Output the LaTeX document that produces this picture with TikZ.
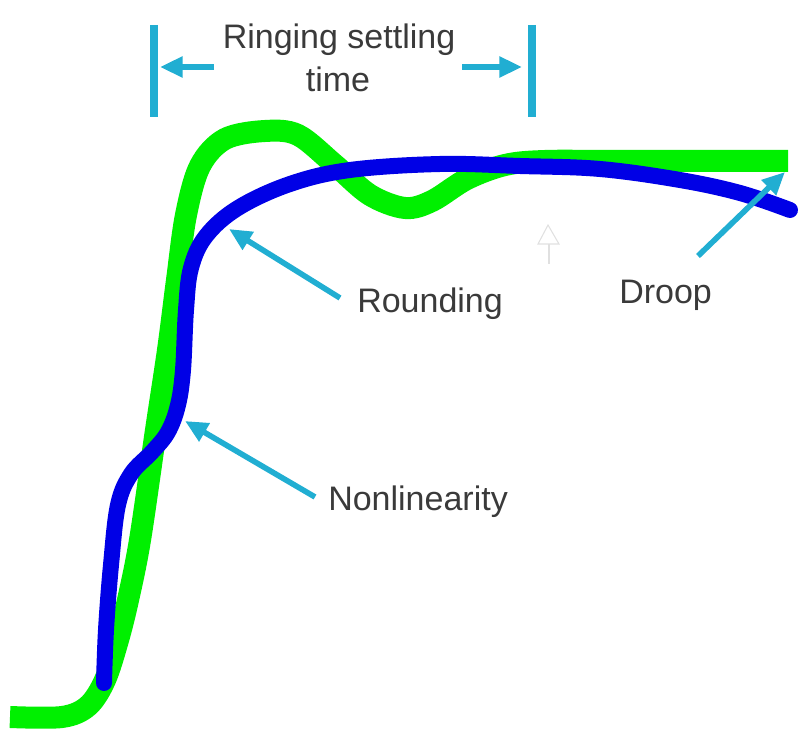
\documentclass[tikz,border=0pt]{standalone}
\usepackage{fontspec}
\setmainfont{Liberation Sans}
\usetikzlibrary{arrows.meta}
\definecolor{sigGreen}{RGB}{0,240,0}
\definecolor{sigBlue}{RGB}{0,0,230}
\definecolor{callout}{RGB}{33,174,210}
\definecolor{txt}{RGB}{58,58,58}
\begin{document}
\begin{tikzpicture}[x=0.75pt,y=-0.75pt,
  lbl/.style={inner sep=0pt,text=txt,font=\fontsize{25.5}{30}\selectfont},
  arr/.style={draw=callout,line width=4.2pt,-{Triangle[length=17pt,width=15pt]}},
  bar/.style={draw=callout,line width=6pt},
  greencurve/.style={draw=sigGreen,line width=16.5pt,line join=round},
  bluecurve/.style={draw=sigBlue,line width=12pt,line cap=round,line join=round},
  ghost/.style={draw=black!12,line width=0.8pt}]
\useasboundingbox (0,0) rectangle (800,737);
% green step response
\draw[greencurve] plot[smooth,tension=0.55] coordinates {(10,717) (62,717) (88,706) (105,680) (118,640) (128,600) (140,540) (156,430) (168,350) (177,280) (186,215) (200,166) (225,139) (265,131) (298,135) (335,165) (370,195) (405,208) (432,201) (467,179) (505,165) (545,161) (620,161) (788,161)};
% blue step response
\draw[bluecurve] plot[smooth,tension=0.6] coordinates {(104,683) (106,630) (111,565) (118,505) (131,474) (152,452) (168,432) (178,405) (183,370) (186,310) (191,268) (206,236) (238,208) (290,184) (350,170) (440,164) (520,166) (600,169) (680,180) (740,193) (790,210)};
% settling time markers
\coordinate (lb1) at (154,25); \coordinate (lb2) at (154,117);
\coordinate (rb1) at (532,25); \coordinate (rb2) at (532,117);
\draw[bar] (lb1) -- (lb2);
\draw[bar] (rb1) -- (rb2);
\node[lbl,anchor=base] (ring) at (339,49) {Ringing settling};
\node[lbl,anchor=base] (time) at (338,92) {time};
\coordinate (la0) at (214,67); \coordinate (la1) at (160,67);
\coordinate (ra0) at (462,67); \coordinate (ra1) at (522,67);
\draw[arr] (la0) -- (la1);
\draw[arr] (ra0) -- (ra1);
% labels
\node[lbl,anchor=base west] (round) at (357,313) {Rounding};
\node[lbl,anchor=base west] (nonlin) at (328,511) {Nonlinearity};
\node[lbl,anchor=base west] (droop) at (619,304) {Droop};
\coordinate (rs) at (340,298); \coordinate (rt) at (229,229);
\coordinate (ns) at (315,497); \coordinate (nt) at (185,421);
\coordinate (ds) at (698,256); \coordinate (dt) at (785,172);
\draw[arr] (rs) -- (rt);
\draw[arr] (ns) -- (nt);
\draw[arr] (ds) -- (dt);
% faint marker arrow
\coordinate (g1) at (548,225); \coordinate (g2) at (538,244); \coordinate (g3) at (559,244);
\coordinate (g4) at (549,244); \coordinate (g5) at (549,264);
\draw[ghost] (g1) -- (g2) -- (g3) -- cycle;
\draw[ghost] (g4) -- (g5);
\end{tikzpicture}
\end{document}
